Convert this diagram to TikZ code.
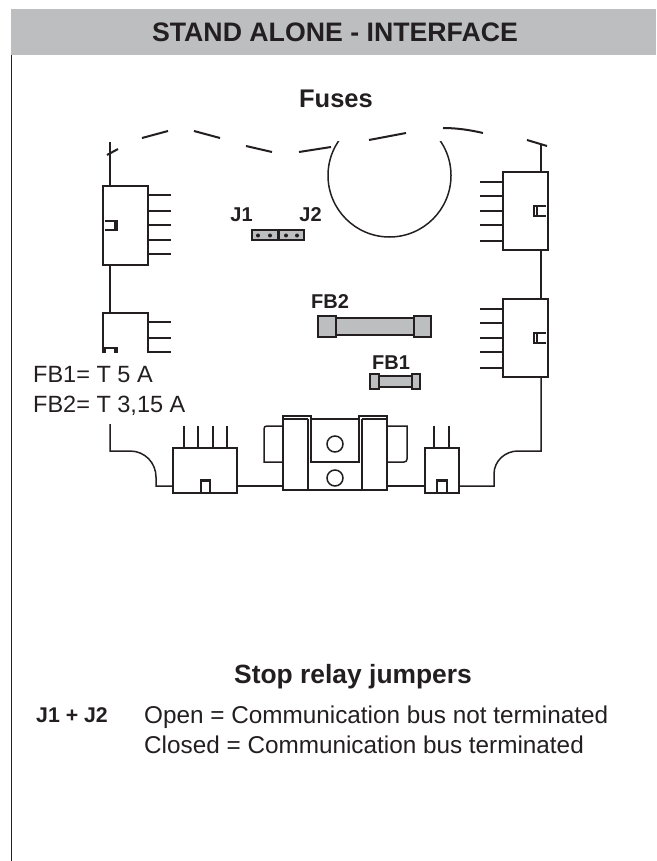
\documentclass[tikz,border=0pt]{standalone}
\usepackage{fontspec}
\setmainfont{Liberation Sans}
\definecolor{headgrey}{HTML}{BCBEC0}
\definecolor{inkgrey}{HTML}{231F20}
\tikzset{
    outline/.style={draw=inkgrey, line width=1.5pt},
    heavy/.style={draw=inkgrey, line width=2pt},
    metal/.style={draw=inkgrey, line width=1.3pt, fill=headgrey},
    boldlabel/.style={font=\bfseries\fontsize{#1}{#1}\selectfont, text=inkgrey, inner sep=0pt, anchor=base},
    plainlabel/.style={font=\fontsize{#1}{#1}\selectfont, text=inkgrey, inner sep=0pt, anchor=base west}
}
\begin{document}
\begin{tikzpicture}[x=1pt, y=-1pt]
\useasboundingbox (0,0) rectangle (656,861);
\fill[headgrey] (11,9) rectangle (656,55);
\draw[outline] (11.5,55) -- (11.5,861);
\node[boldlabel=26.7] (title) at (335,42) {STAND ALONE - INTERFACE};
\node[boldlabel=25.5] (fuses) at (336,108) {Fuses};
% broken board edge
\foreach \xa/\ya/\xb/\yb in {107/155/118/149, 142/138/168/131, 194/131/220/138, 246/146/272/152, 299/152/331/147, 369/140/406/133, 527/140/547/146}
    \draw[heavy] (\xa,\ya) -- (\xb,\yb);
\draw[heavy] (443,128) .. controls (457,128) and (470,130) .. (483,133);
\begin{scope}
\clip (320,142) rectangle (460,245);
\draw[outline] (389.5,175.5) circle (61.5);
\end{scope}
% board outline
\draw[outline] (110,142) -- (110,186);
\draw[outline] (110,265) -- (110,313);
\draw[outline] (110,424) -- (110,451) -- (130,451) .. controls (145,451) and (156,463) .. (156,477) -- (156,486) -- (173,486);
\draw[outline] (237,486) -- (283,486);
\draw[outline] (387,486) -- (425,486);
\draw[outline] (459,486) -- (494,486) -- (494,474) .. controls (494,461) and (505,451) .. (518,451) -- (541,451) -- (541,377);
\draw[outline] (541,299) -- (541,250);
\draw[outline] (541,172) -- (541,145);
% side connectors
\draw[outline] (103,186) rectangle (148,265);
\draw[outline] (103,353) -- (103,313) -- (148,313) -- (148,353);
\draw[outline] (503,172) rectangle (548,250);
\draw[outline] (503,299) rectangle (548,377);
\foreach \y in {195, 211, 225, 240, 254, 322, 338, 352}
    \draw[outline] (148,\y) -- (171,\y);
\foreach \y in {182, 196, 211, 225, 241, 309, 323, 338, 352, 368}
    \draw[outline] (480,\y) -- (503,\y);
% latches
\draw[outline] (105,221) -- (117,221) -- (117,230) -- (105,230) (115,221) -- (115,230);
\draw[outline] (105,353) -- (105,348) -- (117,348) -- (117,353) (115,348) -- (115,353);
\draw[outline] (546,206) -- (534,206) -- (534,216) -- (546,216) (537,206) -- (537,216);
\draw[outline] (546,333) -- (534,333) -- (534,343) -- (546,343) (537,333) -- (537,343);
% bottom connectors
\draw[outline] (173,448) rectangle (237,493);
\draw[outline] (425,448) rectangle (459,493);
\foreach \x in {184, 198, 213, 227, 434, 449}
    \draw[outline] (\x,426) -- (\x,448);
\foreach \a/\b in {201/210, 437/447} {
    \draw[outline] (\a,493) -- (\a,480) -- (\b,480) -- (\b,493);
    \draw[heavy] (\a,481) -- (\b,481);
}
% clamp block
\draw[outline] (283,490) -- (283,416) -- (311,416) -- (311,462) -- (359,462) -- (359,416) -- (387,416) -- (387,490) -- cycle;
\draw[outline] (283,419) -- (308,419) (311,419) -- (359,419) (362,419) -- (387,419);
\draw[outline] (308,419) -- (308,490) (362,419) -- (362,490);
\draw[outline] (283,426) -- (267,426) .. controls (265,426) and (264,427) .. (264,429) -- (264,462) -- (283,462);
\draw[outline] (387,426) -- (407,426) -- (407,459) .. controls (407,461) and (406,462) .. (404,462) -- (387,462);
\foreach \y in {444, 478}
    \draw[outline] (335,\y) circle (8);
% jumpers
\draw[metal] (252,230) rectangle (278,240);
\draw[metal] (279,230) rectangle (304,240);
\foreach \x in {258, 270, 286, 297}
    \fill[inkgrey] (\x,235.5) circle (2);
\node[boldlabel=20] (jone) at (241.5,221) {J1};
\node[boldlabel=20] (jtwo) at (310.5,221) {J2};
% fuses
\draw[metal] (336,318) rectangle (414,335);
\draw[metal] (318,316) rectangle (336,337);
\draw[metal] (414,316) rectangle (431,337);
\draw[metal] (379,376) rectangle (412,387);
\draw[metal] (370,374) rectangle (379,389);
\draw[metal] (412,374) rectangle (420,389);
\node[boldlabel=20] (fbtwo) at (330,308) {FB2};
\node[boldlabel=20] (fbone) at (391,369) {FB1};
\node[plainlabel=23.5] (ratingone) at (33,382) {FB1= T 5 A};
\node[plainlabel=23.5] (ratingtwo) at (33,412) {FB2= T 3,15 A};
% jumper table
\node[boldlabel=26.4, anchor=base west] (stop) at (234,683) {Stop relay jumpers};
\node[boldlabel=21.3, anchor=base west] (jpair) at (36,722) {J1 + J2};
\node[plainlabel=24.3] (openline) at (144,723) {Open = Communication bus not terminated};
\node[plainlabel=24.3] (closedline) at (144,753) {Closed = Communication bus terminated};
\end{tikzpicture}
\end{document}
